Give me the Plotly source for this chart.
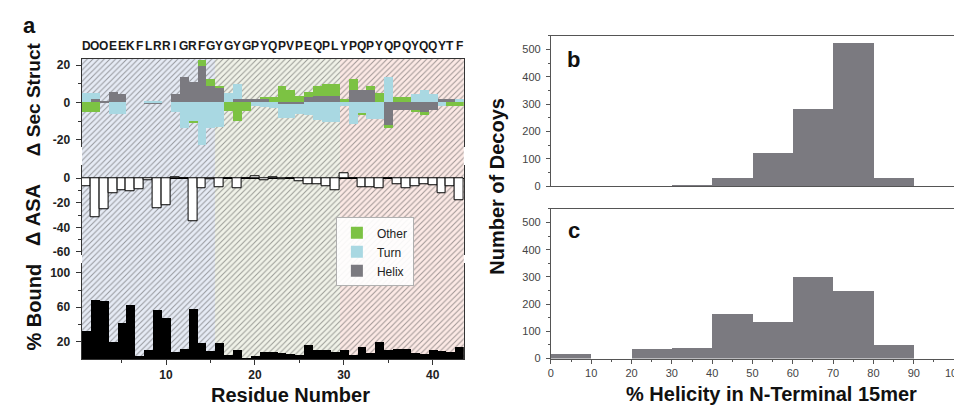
import plotly.graph_objects as go

W, H = 962, 407

# ---------------- data ----------------
residues = list(range(1, 44))
sequence = "DOOEEKFLRRIGRFGYGYGPYQPVPEQPLYPQPYQPQYQQYTF"

helix = [0, 1.75, 0.9, 5.6, 4.7, 0, 0, -1.0, -1.0, 0,
         4.7, 13.7, 10.9, 19.6, 8.8, 7.4, 0, 1.75, 1.75, 1.75,
         1.75, 0, -1, -1, -1, 2.6, 3.5, 3.5, 3.5, 0,
         6.7, 6.7, 6.7, 0, -12.3, -3.9, -3.9, -3.9, -5.3, -3.9,
         1.75, 1.75, 0]
turn = [4.9, 3.2, 0, -6.1, -6.1, 0, 0, 0.9, 0.9, 0,
        -5.3, -14, -10.2, -22.8, -14, -13.2, 4.9, 7.9, 0, -1.75,
        -2.6, -3.2, -7.7, -7.7, -5.1, -7, -9.6, -10.5, -10.5, -2,
        -11.4, -6.1, -8.8, -8.8, 13.7, 0, 0, 4.4, 6.7, 4.4,
        -1.75, 0, 1.75]
other = [-5.3, -5.3, 0, 0, 0, 0, 0, 0, 0, 0,
         0, 0, -1.1, 2.8, 3.9, 1.4, -4.9, -10.2, -4.9, 0,
         1.2, 3, 8.8, 6.7, 3.5, 3, 5.3, 6.1, 6.1, 1.75,
         6, -0.9, 2.1, 4.9, -1.75, 3, 3, -1.4, -1.4, 0,
         0, -2.1, -2.1]
delta_asa = [-6.7, -32, -25.3, -12.3, -10.1, -10.9, -8.8, -1.3, -24, -22.1,
             0.5, 0, -35, -8, -0.8, -6.9, 0, -8.3, 0, 2,
             -1.3, 1.2, -0.5, 0, -2.1, -4.8, -4.8, -6.7, -10.1, 4,
             0, -7.5, -7.5, -8.3, 0, -4.8, -8.3, -6.7, -4.8, -5.3,
             -12.3, -6.1, -18.1]
pct_bound = [33.5, 68.6, 67.8, 20.6, 41.9, 62.9, 3.4, 11.4, 57.1, 48.4,
             8.8, 12.2, 58.3, 18.7, 9.5, 19.4, 5, 11.4, 1.9, 3.4,
             9, 9, 7.6, 6.5, 5.3, 17, 11.4, 10.3, 8.8, 10.3,
             4.6, 14.5, 7.2, 20.2, 10.3, 12.2, 12.2, 6.9, 6.5, 11.4,
             9.5, 8.4, 14.1]

region_start = [0.5, 15.5, 29.5]
region_width = [15, 14, 14]
region_bg = ["#e6ebf5", "#f0f2e8", "#fce9e5"]
region_fg = ["#c3cfe6", "#d8dec8", "#f1c8c0"]

helicity_bins = [5, 15, 25, 35, 45, 55, 65, 75, 85, 95]
decoys_b = [0, 0, 0, 3, 31, 121, 283, 526, 29, 0]
decoys_c = [17, 0, 36, 39, 163, 134, 302, 249, 49, 0]

# ---------------- styling ----------------
FONT = "Liberation Sans"
C_OTHER = "#7cc243"
C_TURN = "#a9d8e2"
C_HELIX = "#7b7a80"
LINE = "#333333"

def px_y(top, bottom):
    return [1 - bottom / H, 1 - top / H]

def px_x(left, right):
    return [left / W, right / W]

XA = px_x(71.5, 458.5)
XB = px_x(546.7, 955)

fig = go.Figure()

# hatched background regions (panel a)
fig.add_trace(go.Bar(
    x=region_start, y=[1, 1, 1], width=region_width, offset=0,
    marker=dict(color=region_bg, line=dict(width=0),
                pattern=dict(shape="/", fgcolor=region_fg, bgcolor=region_bg,
                             size=4, solidity=0.25)),
    xaxis="x", yaxis="y", showlegend=False, hoverinfo="skip"))

# secondary structure stacked bars
for name, vals, col in [("Helix", helix, C_HELIX), ("Turn", turn, C_TURN), ("Other", other, C_OTHER)]:
    fig.add_trace(go.Bar(x=residues, y=vals, width=1, name=name,
                         marker=dict(color=col, line=dict(width=0)),
                         xaxis="x2", yaxis="y2"))

# delta ASA
fig.add_trace(go.Bar(x=residues, y=delta_asa, width=1, showlegend=False,
                     marker=dict(color="white", line=dict(color="black", width=1)),
                     xaxis="x3", yaxis="y3"))

# % bound
fig.add_trace(go.Bar(x=residues, y=pct_bound, width=1, showlegend=False,
                     marker=dict(color="black", line=dict(width=0)),
                     xaxis="x4", yaxis="y4"))

# histograms b, c
fig.add_trace(go.Bar(x=helicity_bins, y=decoys_b, width=10, showlegend=False,
                     marker=dict(color=C_HELIX, line=dict(width=0)),
                     xaxis="x5", yaxis="y5"))
fig.add_trace(go.Bar(x=helicity_bins, y=decoys_c, width=10, showlegend=False,
                     marker=dict(color=C_HELIX, line=dict(width=0)),
                     xaxis="x6", yaxis="y6"))

def tick_a():
    return dict(family=FONT, size=12, color="#222222", weight="bold")

def tick_b():
    return dict(family=FONT, size=11, color="#444444")

def yax_a(dom, rng, tv, tt, mv, anchor, zero=False):
    return dict(domain=dom, range=rng, anchor=anchor, tickmode="array",
                tickvals=tv, ticktext=tt, ticks="outside", ticklen=5, tickwidth=1,
                tickcolor=LINE, showline=True, mirror=True, linecolor=LINE, linewidth=1,
                showgrid=False, zeroline=zero, zerolinecolor="black", zerolinewidth=1.3,
                tickfont=tick_a(), ticklabelstandoff=3,
                minor=dict(tickmode="array", tickvals=mv, ticks="outside", ticklen=3,
                           tickcolor=LINE, showgrid=False))

hist_y = dict(range=[0, 550], dtick=100, ticks="outside", ticklen=4, tickcolor="#555555",
              showline=True, mirror=True, linecolor="#555555", linewidth=1,
              showgrid=False, zeroline=False, ticklabelstandoff=3,
              minor=dict(dtick=50, ticks="outside", ticklen=2, tickcolor="#555555",
                         showgrid=False))

fig.update_layout(
    width=W, height=H, autosize=False,
    margin=dict(l=0, r=0, t=0, b=0),
    paper_bgcolor="white", plot_bgcolor="rgba(0,0,0,0)",
    barmode="relative", bargap=0,
    font=dict(family=FONT, color="#222222"),
    showlegend=True,
    legend=dict(x=329 / W, y=1 - 212 / H, xanchor="left", yanchor="top",
                traceorder="reversed", bgcolor="rgba(255,255,255,0.9)",
                bordercolor="#b0b0b0", borderwidth=1,
                font=dict(family=FONT, size=12, color="#222222"),
                itemwidth=30, tracegroupgap=0),
    xaxis=dict(domain=XA, range=[0.5, 43.5], visible=False, anchor="y"),
    yaxis=dict(domain=px_y(51, 356), range=[0, 1], visible=False, anchor="x"),
    xaxis2=dict(domain=XA, range=[0.5, 43.5], anchor="y2", side="top",
                showticklabels=False, ticks="", showline=True, linecolor=LINE,
                linewidth=1, showgrid=False, zeroline=False),
    yaxis2=yax_a(px_y(51, 140), [-23.7, 23.2], [-20, 0, 20], ["-20", "0", "20"], [-10, 10], "x2"),
    xaxis3=dict(domain=XA, range=[0.5, 43.5], anchor="y3", showticklabels=False,
                ticks="", showline=False, showgrid=False, zeroline=False),
    yaxis3=yax_a(px_y(159, 250), [-62.2, 10.6], [-60, -40, -20, 0],
                 ["-60", "-40", "-20", "0"], [-50, -30, -10], "x3", zero=True),
    xaxis4=dict(domain=XA, range=[0.5, 43.5], anchor="y4", tickmode="array",
                tickvals=[10, 20, 30, 40], ticks="outside", ticklen=5, tickcolor=LINE,
                showline=True, linecolor=LINE, linewidth=1, showgrid=False,
                zeroline=False, tickfont=tick_a(),
                minor=dict(tickmode="array", tickvals=[5, 15, 25, 35], ticks="outside",
                           ticklen=3, tickcolor=LINE, showgrid=False)),
    yaxis4=yax_a(px_y(258, 356), [0, 112], [20, 60, 100], ["20", "60", "100"], [40, 80], "x4"),
    xaxis5=dict(domain=XB, range=[0, 100], anchor="y5", showticklabels=False, ticks="",
                showline=True, mirror=True, linecolor="#555555", linewidth=1,
                showgrid=False, zeroline=False),
    yaxis5=dict(domain=px_y(27.3, 180.3), anchor="x5", tickfont=tick_b(), **hist_y),
    xaxis6=dict(domain=XB, range=[0, 100], anchor="y6", tickmode="array",
                tickvals=[0, 10, 20, 30, 40, 50, 60, 70, 80, 90, 100],
                ticks="outside", ticklen=4, tickcolor="#555555", showline=True,
                mirror=True, linecolor="#555555", linewidth=1, showgrid=False,
                zeroline=False, tickfont=tick_b(), ticklabeloverflow="allow",
                minor=dict(tickmode="array", tickvals=[5, 15, 25, 35, 45, 55, 65, 75, 85, 95],
                           ticks="outside", ticklen=2, tickcolor="#555555", showgrid=False)),
    yaxis6=dict(domain=px_y(203.3, 355.7), anchor="x6", tickfont=tick_b(), **hist_y),
)

# sequence letters above panel a
for r, ch in zip(residues, sequence):
    fig.add_annotation(x=r, y=1 - 38 / H, xref="x2", yref="paper", text=ch,
                       showarrow=False,
                       font=dict(family=FONT, size=12, color="#1a1a1a", weight="bold"),
                       xanchor="center", yanchor="middle")

title_font = dict(family=FONT, size=20, color="#111111", weight="bold")
ann = [
    dict(text="a", x=19 / W, y=1 - 17 / H, font=dict(family=FONT, size=22, color="#111111", weight="bold")),
    dict(text="Δ Sec Struct", x=23 / W, y=1 - 92 / H, textangle=-90,
         font=dict(family=FONT, size=19, color="#111111", weight="bold")),
    dict(text="Δ ASA", x=23 / W, y=1 - 210 / H, textangle=-90, font=title_font),
    dict(text="% Bound", x=23 / W, y=1 - 303 / H, textangle=-90, font=title_font),
    dict(text="Residue Number", x=283 / W, y=1 - 393 / H, font=title_font),
    dict(text="Number of Decoys", x=492 / W, y=1 - 180 / H, textangle=-90, font=title_font),
    dict(text="% Helicity in N-Terminal 15mer", x=770 / W, y=1 - 392 / H, font=title_font),
    dict(text="b", x=570 / W, y=1 - 51 / H, bgcolor="white",
         font=dict(family=FONT, size=22, color="#111111", weight="bold")),
    dict(text="c", x=570 / W, y=1 - 225 / H, bgcolor="white",
         font=dict(family=FONT, size=22, color="#111111", weight="bold")),
]
for a in ann:
    fig.add_annotation(xref="paper", yref="paper", showarrow=False,
                       xanchor="center", yanchor="middle", **a)

fig.write_html("out.html")
